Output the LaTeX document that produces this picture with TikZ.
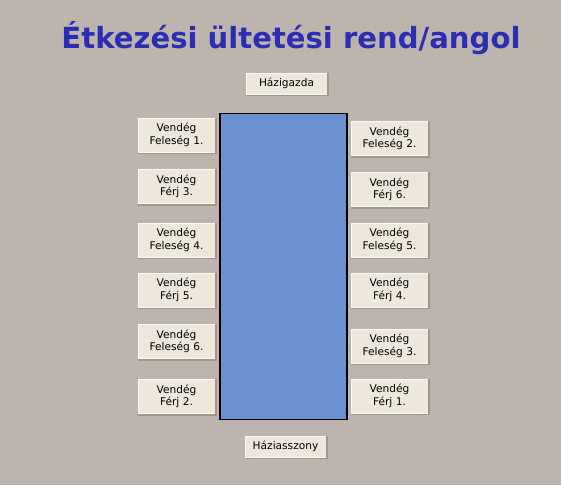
\documentclass[tikz,border=0pt]{standalone}
\usepackage{fontspec}
\setmainfont{DejaVu Sans}
\definecolor{bgcol}{RGB}{188,180,173}
\definecolor{btnfill}{RGB}{238,232,220}
\definecolor{btnlight}{RGB}{252,250,245}
\definecolor{btndark}{RGB}{160,150,140}
\definecolor{tablecol}{RGB}{108,145,208}
\definecolor{titlecol}{RGB}{45,45,180}
\begin{document}
\begin{tikzpicture}[x=1pt,y=-1pt,
  btn/.style={fill=btnfill, draw=btnlight, line width=1pt, minimum width=77pt, minimum height=34pt,
    inner sep=0pt, align=center, font=\fontsize{10.6}{12.5}\selectfont, text=black},
  hostbtn/.style={btn, minimum width=81pt, minimum height=21pt},
  shade/.style={draw=btndark, line width=1.2pt},
  tablebox/.style={fill=tablecol, draw=black, line width=1.3pt}]
\useasboundingbox[fill=bgcol] (0,0) rectangle (561,485);
% title
\node[font=\bfseries\fontsize{29.1}{35}\selectfont, text=titlecol, anchor=base] (title) at (291,48) {Étkezési ültetési rend/angol};
% table
\node[tablebox, minimum width=127pt, minimum height=306pt, inner sep=0pt] (table) at (283.5,266.5) {};
% hosts
\node[hostbtn] (host) at (286.5,83.5) {Házigazda};
\node[hostbtn] (hostess) at (285.5,446.5) {Háziasszony};
% left column
\node[btn] (l1) at (176.5,135) {Vendég\\Feleség 1.};
\node[btn] (l2) at (176.5,186.5) {Vendég\\Férj 3.};
\node[btn] (l3) at (176.5,240) {Vendég\\Feleség 4.};
\node[btn] (l4) at (176.5,290) {Vendég\\Férj 5.};
\node[btn] (l5) at (176.5,341.5) {Vendég\\Feleség 6.};
\node[btn] (l6) at (176.5,396.5) {Vendég\\Férj 2.};
% right column
\node[btn] (r1) at (389.5,138.5) {Vendég\\Feleség 2.};
\node[btn] (r2) at (389.5,189.5) {Vendég\\Férj 6.};
\node[btn] (r3) at (389.5,240) {Vendég\\Feleség 5.};
\node[btn] (r4) at (389.5,290) {Vendég\\Férj 4.};
\node[btn] (r5) at (389.5,346) {Vendég\\Feleség 3.};
\node[btn] (r6) at (389.5,396) {Vendég\\Férj 1.};
\foreach \n in {host,hostess,l1,l2,l3,l4,l5,l6,r1,r2,r3,r4,r5,r6}{
  \draw[shade] ([yshift=-1pt]\n.south west) -- ([xshift=0.5pt,yshift=-1pt]\n.south east) -- ([xshift=0.5pt]\n.north east);
}
\end{tikzpicture}
\end{document}
